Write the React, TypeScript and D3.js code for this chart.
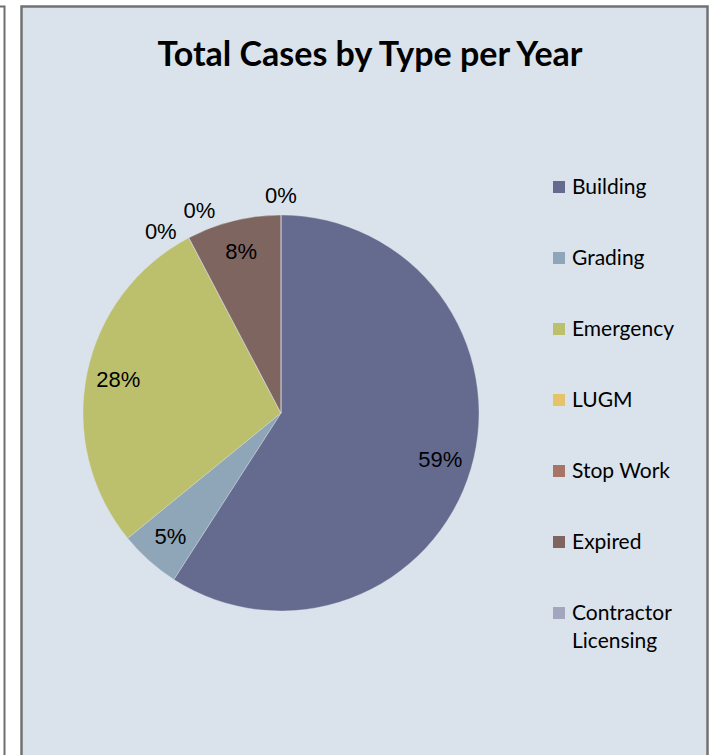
import React from "react";
import * as d3 from "d3";

const categories = ["Building", "Grading", "Emergency", "LUGM", "Stop Work", "Expired", "Contractor Licensing"];
const values = [59.1, 5.0, 28.2, 0, 0, 7.7, 0];
const colors = ["#646B8F", "#8FA5B8", "#BCC06C", "#E3C46A", "#A87466", "#7F6560", "#A3A7BE"];
const title = "Total Cases by Type per Year";

export default function App() {
  const W = 713, H = 755;
  const cx = 281, cy = 413, r = 198;
  const total = d3.sum(values);
  const pie = d3.pie<number>().sort(null).value((d) => d)(values);
  const arc = d3.arc<d3.PieArcDatum<number>>().innerRadius(0).outerRadius(r);
  const labelArcIn = d3.arc<d3.PieArcDatum<number>>().innerRadius(166).outerRadius(166);

  // spread labels of zero slices sharing one angle
  const zeroShift: number[] = values.map(() => 0);
  let i = 0;
  while (i < values.length) {
    if (values[i] === 0) {
      let j = i;
      while (j < values.length && values[j] === 0) j++;
      const n = j - i;
      for (let k = i; k < j; k++) zeroShift[k] = ((k - i) - (n - 1) / 2) * 11.5;
      i = j;
    } else i++;
  }

  const fmt = (v: number) => `${Math.round((v / total) * 100)}%`;

  const legendX = 553, legendY0 = 187, legendStep = 71;

  return (
    <svg width={W} height={H} style={{ position: "absolute", left: 0, top: 0 }}>
      <rect x={0} y={0} width={W} height={H} fill="#ffffff" />
      {/* left neighbour panel edge */}
      <path d="M0,6.5 L4.5,6.5 L4.5,755" fill="none" stroke="#6E6E6E" strokeWidth={2} />
      {/* chart area */}
      <rect x={21.5} y={6.5} width={686} height={760} fill="#DAE3EC" stroke="#727272" strokeWidth={2.5} />
      <text x={370} y={66} textAnchor="middle" fontFamily="Lato, 'Open Sans', sans-serif" fontWeight="bold" fontSize={34} fill="#000">
        {title}
      </text>
      <g transform={`translate(${cx},${cy})`}>
        {pie.map((p, idx) => (
          <path key={idx} d={arc(p) || ""} fill={colors[idx]} stroke="#DDE4EA" strokeWidth={0.6} strokeOpacity={0.6} />
        ))}
        {pie.map((p, idx) => {
          let x: number, y: number;
          if (values[idx] === 0) {
            const a = p.startAngle + (zeroShift[idx] * Math.PI) / 180;
            const rr = 218;
            x = rr * Math.sin(a);
            y = -rr * Math.cos(a);
          } else {
            [x, y] = labelArcIn.centroid(p);
          }
          return (
            <text key={idx} x={x} y={y} textAnchor="middle" dominantBaseline="central" fontFamily="'Liberation Sans', Arial, sans-serif" fontSize={22} fill="#000">
              {fmt(values[idx])}
            </text>
          );
        })}
      </g>
      {categories.map((c, idx) => {
        const y = legendY0 + idx * legendStep;
        const words = c === "Contractor Licensing" ? ["Contractor", "Licensing"] : [c];
        return (
          <g key={c}>
            <rect x={legendX} y={y - 6} width={12} height={12} fill={colors[idx]} />
            <text x={legendX + 19} y={y + 7} fontFamily="Lato, 'Open Sans', sans-serif" fontSize={21} fill="#000">
              {words.map((w, k) => (
                <tspan key={k} x={legendX + 19} dy={k === 0 ? 0 : 28}>{w}</tspan>
              ))}
            </text>
          </g>
        );
      })}
    </svg>
  );
}
